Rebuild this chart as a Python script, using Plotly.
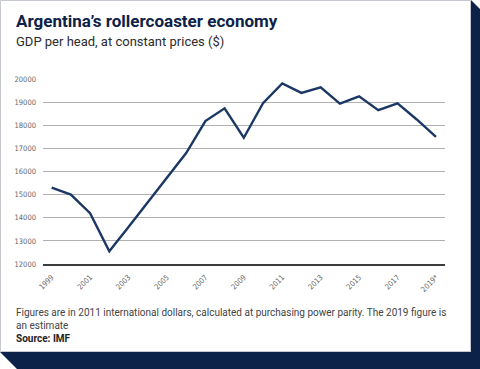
import plotly.graph_objects as go

years = list(range(1999, 2020))
gdp_per_head = [15300, 15000, 14200, 12550, 13600, 14650, 15700, 16800, 18180, 18730,
                17460, 18950, 19810, 19400, 19640, 18930, 19250, 18650, 18950, 18250, 17500]
tick_years = [1999, 2001, 2003, 2005, 2007, 2009, 2011, 2013, 2015, 2017, 2019]
tick_labels = ["1999", "2001", "2003", "2005", "2007", "2009", "2011", "2013", "2015", "2017", "2019*"]
y_ticks = [12000, 13000, 14000, 15000, 16000, 17000, 18000, 19000, 20000]
y_labels = ["12000", "13000", "14000", "15000", "16000", "17000", "18000", "19000", "20000"]

W, H = 480, 369
L, R, T, B = 43, 445, 79, 264
NAVY = "#0c2248"


def px(x):
    return (x - L) / (R - L)


def py(y):
    return (B - y) / (B - T)


def path(points):
    return "M " + " L ".join(f"{px(x):.5f},{py(y):.5f}" for x, y in points) + " Z"


fig = go.Figure()
fig.add_trace(go.Scatter(x=years, y=gdp_per_head, mode="lines",
                         line=dict(color="#1b3764", width=2.4), hoverinfo="skip"))

shapes = [
    dict(type="path", xref="paper", yref="paper", layer="below",
         path=path([(471, 0), (480, 9), (480, 369), (17, 369), (0, 352), (471, 352)]),
         fillcolor=NAVY, line=dict(width=0)),
    dict(type="path", xref="paper", yref="paper", layer="below",
         path=path([(0.5, 0.5), (470.5, 0.5), (470.5, 351.5), (0.5, 351.5)]),
         fillcolor="white", line=dict(color="#c5c8cf", width=1)),
]

tick_font = "Liberation Sans Narrow, DejaVu Sans Condensed, Roboto, sans-serif"
annotations = [
    dict(text="<b>Argentina’s rollercoaster economy</b>", x=px(14), y=py(21), xref="paper", yref="paper",
         xanchor="left", yanchor="middle", showarrow=False,
         font=dict(family="Roboto, sans-serif", size=17, color="#0c2248")),
    dict(text="GDP per head, at constant prices ($)", x=px(14), y=py(41), xref="paper", yref="paper",
         xanchor="left", yanchor="middle", showarrow=False,
         font=dict(family="Roboto, sans-serif", size=13, color="#2b2b2b")),
    dict(text="Figures are in 2011 international dollars, calculated at purchasing power parity. The 2019 figure is",
         x=px(14), y=py(312), xref="paper", yref="paper",
         xanchor="left", yanchor="middle", showarrow=False,
         font=dict(family="Roboto, sans-serif", size=10, color="#444444")),
    dict(text="an estimate", x=px(14), y=py(325), xref="paper", yref="paper",
         xanchor="left", yanchor="middle", showarrow=False,
         font=dict(family="Roboto, sans-serif", size=10, color="#444444")),
    dict(text="<b>Source: IMF</b>", x=px(14), y=py(338), xref="paper", yref="paper",
         xanchor="left", yanchor="middle", showarrow=False,
         font=dict(family="Roboto, sans-serif", size=10, color="#222222")),
]

fig.update_layout(
    width=W, height=H,
    margin=dict(l=L, r=W - R, t=T, b=H - B, pad=0),
    paper_bgcolor="white", plot_bgcolor="rgba(0,0,0,0)",
    showlegend=False,
    shapes=shapes, annotations=annotations,
    xaxis=dict(range=[1998.55, 2019.47], tickmode="array", tickvals=tick_years, ticktext=tick_labels,
               tickangle=-45, showgrid=False, zeroline=False,
               showline=True, linecolor="#3c3c3c", linewidth=2,
               ticks="", ticklabelstandoff=4,
               tickfont=dict(family=tick_font, size=7.5, color="#666666")),
    yaxis=dict(range=[12000, 20000], tickmode="array", tickvals=y_ticks, ticktext=y_labels,
               showgrid=True, gridcolor="#b0b0b0",
               gridwidth=1, zeroline=False, showline=False, ticks="",
               ticklabelstandoff=6,
               tickfont=dict(family=tick_font, size=7.5, color="#666666")),
)

fig.write_html("out.html", config={"displayModeBar": False},
               post_script="document.body.style.margin='0';document.body.style.padding='0';"
                           "document.body.style.overflow='hidden';")
